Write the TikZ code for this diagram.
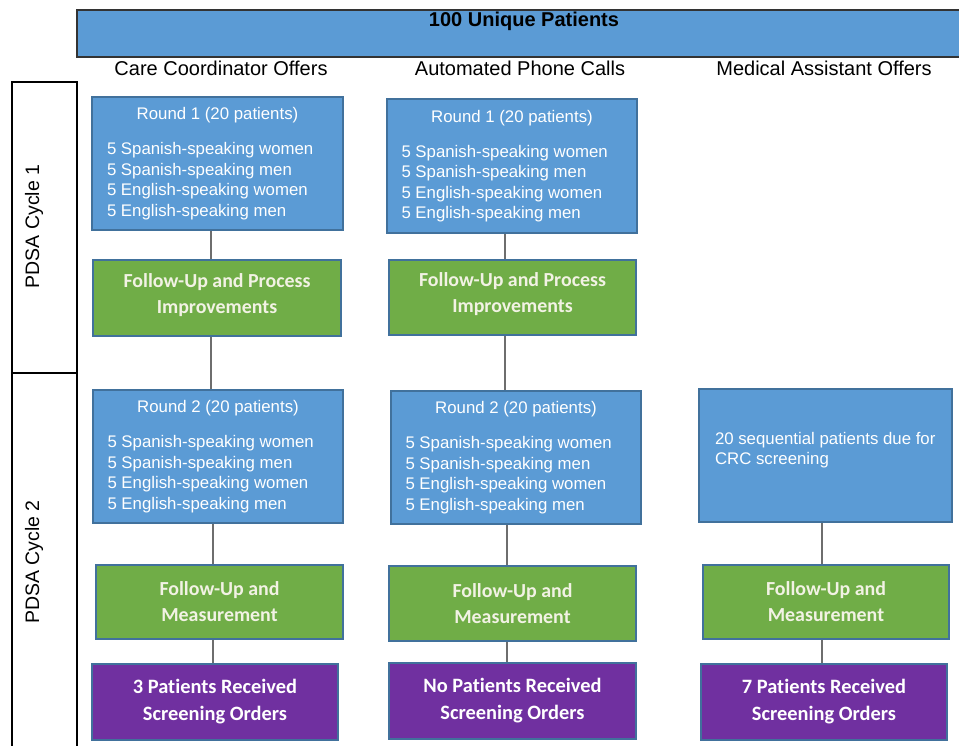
\documentclass[tikz,border=0pt]{standalone}
\usepackage{fontspec}
\setmainfont{Liberation Sans}
\newfontfamily\calibrifont[Ligatures=NoCommon]{Carlito}
\definecolor{ofblue}{HTML}{5B9BD5}
\definecolor{ofgreen}{HTML}{70AD47}
\definecolor{ofpurple}{HTML}{7030A0}
\definecolor{ofedge}{HTML}{41719C}
\definecolor{lightw}{HTML}{F2F2E4}
\definecolor{connc}{HTML}{6E6E6E}
\newcommand{\lli}[1]{\makebox[221pt][l]{#1}}
\begin{document}
\begin{tikzpicture}[x=1pt,y=-1pt,
 sz/.style 2 args={minimum width=#1, minimum height=#2},
 box/.style={draw=ofedge, line width=1.1pt, inner sep=0pt, align=center},
 bluebox/.style={box, fill=ofblue, text=white, font=\fontsize{16.8}{20.5}\selectfont},
 greenbox/.style={box, fill=ofgreen, text=lightw, font=\calibrifont\bfseries\fontsize{19.9}{26}\selectfont},
 purplebox/.style={box, fill=ofpurple, text=white, font=\calibrifont\bfseries\fontsize{20.4}{27}\selectfont},
 conn/.style={draw=connc, line width=1.3pt},
 colhead/.style={font=\fontsize{20}{22}\selectfont, inner sep=0pt},
 cyclebox/.style={draw=black, line width=1.3pt, inner sep=0pt},
 ]
\useasboundingbox (0,0) rectangle (959,746);

% banner
\node[draw=black!80, line width=1.3pt, fill=ofblue, inner sep=0pt, sz={888pt}{47pt}] (ban) at (521,33.5) {};
\node[font=\bfseries\fontsize{20}{22}\selectfont, inner sep=0pt, anchor=base] (bant) at (524,27) {100 Unique Patients};

% column headers
\node[colhead, anchor=base] (h1) at (221,76) {Care Coordinator Offers};
\node[colhead, anchor=base] (h2) at (520,76) {Automated Phone Calls};
\node[colhead, anchor=base] (h3) at (824,76) {Medical Assistant Offers};

% PDSA cycles
\node[cyclebox, sz={65pt}{291pt}] (cy1) at (44.5,227.5) {};
\node[cyclebox, sz={65pt}{387pt}] (cy2) at (44.5,566.5) {};
\node[colhead, font=\fontsize{19.5}{22}\selectfont, rotate=90] (cy1t) at (34,226.5) {PDSA Cycle 1};
\node[colhead, font=\fontsize{19.5}{22}\selectfont, rotate=90] (cy2t) at (34,562) {PDSA Cycle 2};

% column 1
\node[bluebox, sz={251pt}{133pt}] (r1a) at (217.5,163.5) {Round 1 (20 patients)\\[14.5pt]\lli{5 Spanish-speaking women}\\\lli{5 Spanish-speaking men}\\\lli{5 English-speaking women}\\\lli{5 English-speaking men}};
\node[greenbox, sz={248pt}{76pt}] (g1a) at (217,298) {Follow-Up and Process\\Improvements\\[-17pt]\rule{0pt}{1pt}};
\node[bluebox, sz={250pt}{133pt}] (r2a) at (218,456.5) {Round 2 (20 patients)\\[14.5pt]\lli{5 Spanish-speaking women}\\\lli{5 Spanish-speaking men}\\\lli{5 English-speaking women}\\\lli{5 English-speaking men}};
\node[greenbox, sz={247pt}{74pt}] (g2a) at (219.5,602) {Follow-Up and\\Measurement};
\node[purplebox, sz={246pt}{76pt}] (pa) at (215,702) {3 Patients Received\\Screening Orders};

% column 2
\node[bluebox, sz={250pt}{134pt}] (r1b) at (512,166) {Round 1 (20 patients)\\[14.5pt]\lli{5 Spanish-speaking women}\\\lli{5 Spanish-speaking men}\\\lli{5 English-speaking women}\\\lli{5 English-speaking men}};
\node[greenbox, sz={247pt}{75pt}] (g1b) at (512.5,297.5) {Follow-Up and Process\\Improvements\\[-17pt]\rule{0pt}{1pt}};
\node[bluebox, sz={250pt}{133pt}] (r2b) at (516,457.5) {Round 2 (20 patients)\\[14.5pt]\lli{5 Spanish-speaking women}\\\lli{5 Spanish-speaking men}\\\lli{5 English-speaking women}\\\lli{5 English-speaking men}};
\node[greenbox, sz={247pt}{75pt}] (g2b) at (512.5,603.5) {Follow-Up and\\Measurement};
\node[purplebox, sz={247pt}{76pt}] (pb) at (512.5,701) {No Patients Received\\Screening Orders};

% column 3
\node[bluebox, sz={253pt}{133pt}] (r2c) at (825.5,455.5) {\lli{20 sequential patients due for}\\\lli{CRC screening}\\[-6pt]\rule{0pt}{1pt}};
\node[greenbox, sz={246pt}{74pt}] (g2c) at (826,602) {Follow-Up and\\Measurement};
\node[purplebox, sz={246pt}{76pt}] (pc) at (824,702) {7 Patients Received\\Screening Orders};

% connector columns
\coordinate (xa) at (211,0);
\coordinate (xab) at (213,0);
\coordinate (xb) at (505,0);
\coordinate (xbb) at (507,0);
\coordinate (xc) at (822,0);

\draw[conn] (r1a.south -| xa) -- (g1a.north -| xa);
\draw[conn] (g1a.south -| xa) -- (r2a.north -| xa);
\draw[conn] (r2a.south -| xab) -- (g2a.north -| xab);
\draw[conn] (g2a.south -| xab) -- (pa.north -| xab);

\draw[conn] (r1b.south -| xb) -- (g1b.north -| xb);
\draw[conn] (g1b.south -| xb) -- (r2b.north -| xb);
\draw[conn] (r2b.south -| xbb) -- (g2b.north -| xbb);
\draw[conn] (g2b.south -| xbb) -- (pb.north -| xbb);

\draw[conn] (r2c.south -| xc) -- (g2c.north -| xc);
\draw[conn] (g2c.south -| xc) -- (pc.north -| xc);
\end{tikzpicture}
\end{document}
